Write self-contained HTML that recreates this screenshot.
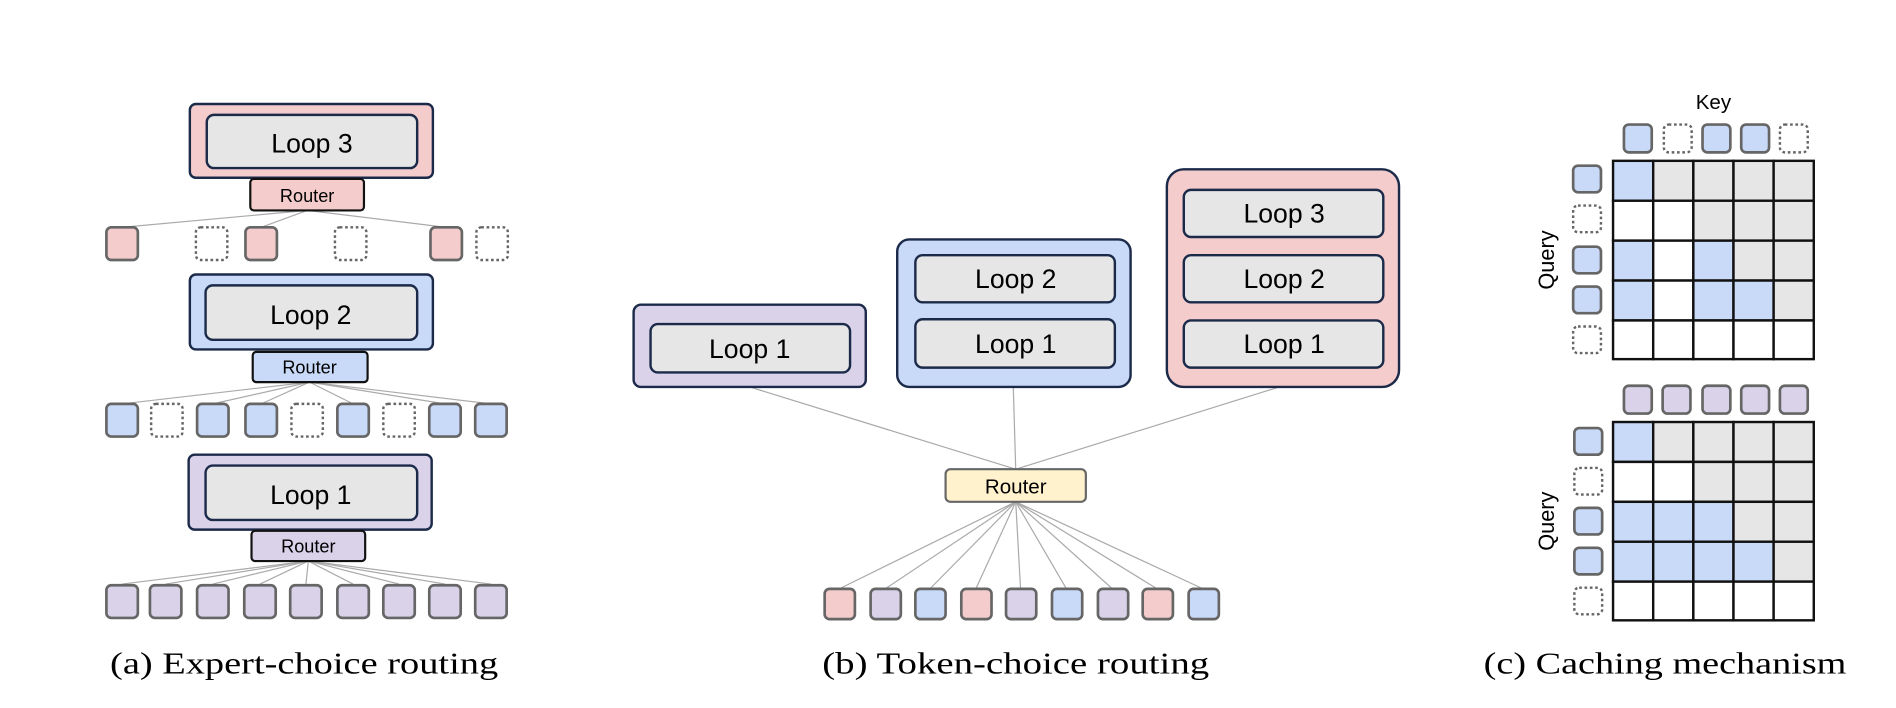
<!DOCTYPE html>
<html><head><meta charset="utf-8"><style>html,body{margin:0;padding:0;background:#fff}svg{display:block}</style></head>
<body>
<svg width="1896" height="708" viewBox="0 0 1568 585.5" xmlns="http://www.w3.org/2000/svg" font-family="Liberation Sans, sans-serif">
<defs>
<style>
.o{stroke:#1c2a4a;stroke-width:2}
.in{fill:#e6e6e6;stroke:#1c2a4a;stroke-width:2}
.r{stroke:#111;stroke-width:1.8}
.t{stroke:#666;stroke-width:2.2}
.d{fill:#fff;stroke:#666;stroke-width:2;stroke-dasharray:2.2 2.2}
.ln{stroke:#aaa;stroke-width:1}
.lt{font-size:22px;text-anchor:middle}
.rt{font-size:15px;text-anchor:middle}
.cap{font-family:"Liberation Serif",serif;font-size:25px}
.P{fill:#f4cccc}.B{fill:#c9daf8}.U{fill:#d9d2e9}.G{fill:#e6e6e6}.W{fill:#fff}.Y{fill:#fff2cc}
</style>
</defs>
<!-- Panel a -->
<g>
<!-- lines loop3 -->
<line class="ln" x1="254" y1="174" x2="101" y2="188"/>
<line class="ln" x1="254" y1="174" x2="216" y2="188"/>
<line class="ln" x1="254" y1="174" x2="369" y2="188"/>
<rect class="o P" x="157" y="86" width="201" height="61" rx="5"/>
<rect class="in" x="171" y="95" width="174" height="44" rx="6"/>
<text class="lt" x="258" y="126">Loop 3</text>
<rect class="r P" x="207" y="148" width="94" height="26" rx="3"/>
<text class="rt" x="254" y="167">Router</text>
<rect class="t P" x="88" y="188" width="26" height="27" rx="4"/>
<rect class="d" x="162" y="188" width="26" height="27" rx="4"/>
<rect class="t P" x="203" y="188" width="26" height="27" rx="4"/>
<rect class="d" x="277" y="188" width="26" height="27" rx="4"/>
<rect class="t P" x="356" y="188" width="26" height="27" rx="4"/>
<rect class="d" x="394" y="188" width="26" height="27" rx="4"/>

<g>
<line class="ln" x1="256" y1="316" x2="101" y2="334"/>
<line class="ln" x1="256" y1="316" x2="176" y2="334"/>
<line class="ln" x1="256" y1="316" x2="216" y2="334"/>
<line class="ln" x1="256" y1="316" x2="292" y2="334"/>
<line class="ln" x1="256" y1="316" x2="368" y2="334"/>
<line class="ln" x1="256" y1="316" x2="406" y2="334"/>
</g>
<rect class="o B" x="157" y="227" width="201" height="62" rx="5"/>
<rect class="in" x="170" y="236" width="175" height="45" rx="6"/>
<text class="lt" x="257" y="268">Loop 2</text>
<rect class="r B" x="209" y="291" width="95" height="25" rx="3"/>
<text class="rt" x="256" y="309">Router</text>
<rect class="t B" x="88" y="334" width="26" height="27" rx="4"/>
<rect class="d" x="125" y="334" width="26" height="27" rx="4"/>
<rect class="t B" x="163" y="334" width="26" height="27" rx="4"/>
<rect class="t B" x="203" y="334" width="26" height="27" rx="4"/>
<rect class="d" x="241" y="334" width="26" height="27" rx="4"/>
<rect class="t B" x="279" y="334" width="26" height="27" rx="4"/>
<rect class="d" x="317" y="334" width="26" height="27" rx="4"/>
<rect class="t B" x="355" y="334" width="26" height="27" rx="4"/>
<rect class="t B" x="393" y="334" width="26" height="27" rx="4"/>

<g>
<line class="ln" x1="255" y1="464" x2="101" y2="483"/>
<line class="ln" x1="255" y1="464" x2="137" y2="483"/>
<line class="ln" x1="255" y1="464" x2="176" y2="483"/>
<line class="ln" x1="255" y1="464" x2="215" y2="483"/>
<line class="ln" x1="255" y1="464" x2="253" y2="483"/>
<line class="ln" x1="255" y1="464" x2="292" y2="483"/>
<line class="ln" x1="255" y1="464" x2="330" y2="483"/>
<line class="ln" x1="255" y1="464" x2="368" y2="483"/>
<line class="ln" x1="255" y1="464" x2="406" y2="483"/>
</g>
<rect class="o U" x="156" y="376" width="201" height="62" rx="5"/>
<rect class="in" x="170" y="385" width="175" height="45" rx="6"/>
<text class="lt" x="257" y="417">Loop 1</text>
<rect class="r U" x="208" y="439" width="94" height="25" rx="3"/>
<text class="rt" x="255" y="457">Router</text>
<g>
<rect class="t U" x="88" y="484" width="26" height="27" rx="4"/>
<rect class="t U" x="124" y="484" width="26" height="27" rx="4"/>
<rect class="t U" x="163" y="484" width="26" height="27" rx="4"/>
<rect class="t U" x="202" y="484" width="26" height="27" rx="4"/>
<rect class="t U" x="240" y="484" width="26" height="27" rx="4"/>
<rect class="t U" x="279" y="484" width="26" height="27" rx="4"/>
<rect class="t U" x="317" y="484" width="26" height="27" rx="4"/>
<rect class="t U" x="355" y="484" width="26" height="27" rx="4"/>
<rect class="t U" x="393" y="484" width="26" height="27" rx="4"/>
</g>
<text class="cap" x="91" y="557" textLength="321" lengthAdjust="spacingAndGlyphs">(a) Expert-choice routing</text>
</g>

<!-- Panel b -->
<g>
<line class="ln" x1="620" y1="320" x2="840" y2="388"/>
<line class="ln" x1="838" y1="320" x2="840" y2="388"/>
<line class="ln" x1="1058" y1="320" x2="840" y2="388"/>
<g>
<line class="ln" x1="840" y1="415" x2="694" y2="487"/>
<line class="ln" x1="840" y1="415" x2="732" y2="487"/>
<line class="ln" x1="840" y1="415" x2="769" y2="487"/>
<line class="ln" x1="840" y1="415" x2="807" y2="487"/>
<line class="ln" x1="840" y1="415" x2="844" y2="487"/>
<line class="ln" x1="840" y1="415" x2="882" y2="487"/>
<line class="ln" x1="840" y1="415" x2="920" y2="487"/>
<line class="ln" x1="840" y1="415" x2="957" y2="487"/>
<line class="ln" x1="840" y1="415" x2="995" y2="487"/>
</g>
<rect class="o U" x="524" y="252" width="192" height="68" rx="6"/>
<rect class="in" x="538" y="268" width="165" height="40" rx="6"/>
<text class="lt" x="620" y="296">Loop 1</text>
<rect class="o B" x="742" y="198" width="193" height="122" rx="10"/>
<rect class="in" x="757" y="211" width="165" height="39" rx="6"/>
<text class="lt" x="840" y="238">Loop 2</text>
<rect class="in" x="757" y="264" width="165" height="40" rx="6"/>
<text class="lt" x="840" y="292">Loop 1</text>
<rect class="o P" x="965" y="140" width="192" height="180" rx="14"/>
<rect class="in" x="979" y="157" width="165" height="39" rx="6"/>
<text class="lt" x="1062" y="184">Loop 3</text>
<rect class="in" x="979" y="211" width="165" height="39" rx="6"/>
<text class="lt" x="1062" y="238">Loop 2</text>
<rect class="in" x="979" y="265" width="165" height="39" rx="6"/>
<text class="lt" x="1062" y="292">Loop 1</text>
<rect class="Y" x="782" y="388" width="116" height="27" rx="4" stroke="#666" stroke-width="1.8"/>
<text x="840" y="408" font-size="17" text-anchor="middle">Router</text>
<g>
<rect class="t P" x="682" y="487" width="25" height="25" rx="4"/>
<rect class="t U" x="720" y="487" width="25" height="25" rx="4"/>
<rect class="t B" x="757" y="487" width="25" height="25" rx="4"/>
<rect class="t P" x="795" y="487" width="25" height="25" rx="4"/>
<rect class="t U" x="832" y="487" width="25" height="25" rx="4"/>
<rect class="t B" x="870" y="487" width="25" height="25" rx="4"/>
<rect class="t U" x="908" y="487" width="25" height="25" rx="4"/>
<rect class="t P" x="945" y="487" width="25" height="25" rx="4"/>
<rect class="t B" x="983" y="487" width="25" height="25" rx="4"/>
</g>
<text class="cap" x="680" y="557" textLength="320" lengthAdjust="spacingAndGlyphs">(b) Token-choice routing</text>
</g>

<!-- Panel c -->
<g>
<text x="1417" y="90" font-size="17" text-anchor="middle">Key</text>
<rect class="t B" x="1343" y="103" width="23" height="23" rx="4"/>
<rect class="d" x="1376" y="103" width="23" height="23" rx="4"/>
<rect class="t B" x="1408" y="103" width="23" height="23" rx="4"/>
<rect class="t B" x="1440" y="103" width="23" height="23" rx="4"/>
<rect class="d" x="1472" y="103" width="23" height="23" rx="4"/>
<text x="1285" y="215" font-size="18" text-anchor="middle" transform="rotate(-90 1285 215)">Query</text>
<g id="q1">
<rect class="t B" x="1301" y="137" width="23" height="22" rx="4"/>
<rect class="d" x="1301" y="170" width="23" height="22" rx="4"/>
<rect class="t B" x="1301" y="204" width="23" height="22" rx="4"/>
<rect class="t B" x="1301" y="237" width="23" height="22" rx="4"/>
<rect class="d" x="1301" y="270" width="23" height="22" rx="4"/>
</g>
<g stroke="#111" stroke-width="2">
<rect class="B" x="1334" y="133" width="33.2" height="33"/><rect class="G" x="1367.2" y="133" width="33.2" height="33"/><rect class="G" x="1400.4" y="133" width="33.2" height="33"/><rect class="G" x="1433.6" y="133" width="33.2" height="33"/><rect class="G" x="1466.8" y="133" width="33.2" height="33"/>
<rect class="W" x="1334" y="166" width="33.2" height="33"/><rect class="W" x="1367.2" y="166" width="33.2" height="33"/><rect class="G" x="1400.4" y="166" width="33.2" height="33"/><rect class="G" x="1433.6" y="166" width="33.2" height="33"/><rect class="G" x="1466.8" y="166" width="33.2" height="33"/>
<rect class="B" x="1334" y="199" width="33.2" height="33"/><rect class="W" x="1367.2" y="199" width="33.2" height="33"/><rect class="B" x="1400.4" y="199" width="33.2" height="33"/><rect class="G" x="1433.6" y="199" width="33.2" height="33"/><rect class="G" x="1466.8" y="199" width="33.2" height="33"/>
<rect class="B" x="1334" y="232" width="33.2" height="33"/><rect class="W" x="1367.2" y="232" width="33.2" height="33"/><rect class="B" x="1400.4" y="232" width="33.2" height="33"/><rect class="B" x="1433.6" y="232" width="33.2" height="33"/><rect class="G" x="1466.8" y="232" width="33.2" height="33"/>
<rect class="W" x="1334" y="265" width="33.2" height="32"/><rect class="W" x="1367.2" y="265" width="33.2" height="32"/><rect class="W" x="1400.4" y="265" width="33.2" height="32"/><rect class="W" x="1433.6" y="265" width="33.2" height="32"/><rect class="W" x="1466.8" y="265" width="33.2" height="32"/>
</g>

<rect class="t U" x="1343" y="319" width="23" height="23" rx="4"/>
<rect class="t U" x="1375" y="319" width="23" height="23" rx="4"/>
<rect class="t U" x="1408" y="319" width="23" height="23" rx="4"/>
<rect class="t U" x="1440" y="319" width="23" height="23" rx="4"/>
<rect class="t U" x="1472" y="319" width="23" height="23" rx="4"/>
<text x="1285" y="431" font-size="18" text-anchor="middle" transform="rotate(-90 1285 431)">Query</text>
<rect class="t B" x="1302" y="354" width="23" height="22" rx="4"/>
<rect class="d" x="1302" y="387" width="23" height="22" rx="4"/>
<rect class="t B" x="1302" y="420" width="23" height="22" rx="4"/>
<rect class="t B" x="1302" y="453" width="23" height="22" rx="4"/>
<rect class="d" x="1302" y="486" width="23" height="22" rx="4"/>
<g stroke="#111" stroke-width="2">
<rect class="B" x="1334" y="349" width="33.2" height="33"/><rect class="G" x="1367.2" y="349" width="33.2" height="33"/><rect class="G" x="1400.4" y="349" width="33.2" height="33"/><rect class="G" x="1433.6" y="349" width="33.2" height="33"/><rect class="G" x="1466.8" y="349" width="33.2" height="33"/>
<rect class="W" x="1334" y="382" width="33.2" height="33"/><rect class="W" x="1367.2" y="382" width="33.2" height="33"/><rect class="G" x="1400.4" y="382" width="33.2" height="33"/><rect class="G" x="1433.6" y="382" width="33.2" height="33"/><rect class="G" x="1466.8" y="382" width="33.2" height="33"/>
<rect class="B" x="1334" y="415" width="33.2" height="33"/><rect class="B" x="1367.2" y="415" width="33.2" height="33"/><rect class="B" x="1400.4" y="415" width="33.2" height="33"/><rect class="G" x="1433.6" y="415" width="33.2" height="33"/><rect class="G" x="1466.8" y="415" width="33.2" height="33"/>
<rect class="B" x="1334" y="448" width="33.2" height="33"/><rect class="B" x="1367.2" y="448" width="33.2" height="33"/><rect class="B" x="1400.4" y="448" width="33.2" height="33"/><rect class="B" x="1433.6" y="448" width="33.2" height="33"/><rect class="G" x="1466.8" y="448" width="33.2" height="33"/>
<rect class="W" x="1334" y="481" width="33.2" height="32"/><rect class="W" x="1367.2" y="481" width="33.2" height="32"/><rect class="W" x="1400.4" y="481" width="33.2" height="32"/><rect class="W" x="1433.6" y="481" width="33.2" height="32"/><rect class="W" x="1466.8" y="481" width="33.2" height="32"/>
</g>
<text class="cap" x="1227" y="557" textLength="300" lengthAdjust="spacingAndGlyphs">(c) Caching mechanism</text>
</g>
</svg>
</body></html>
